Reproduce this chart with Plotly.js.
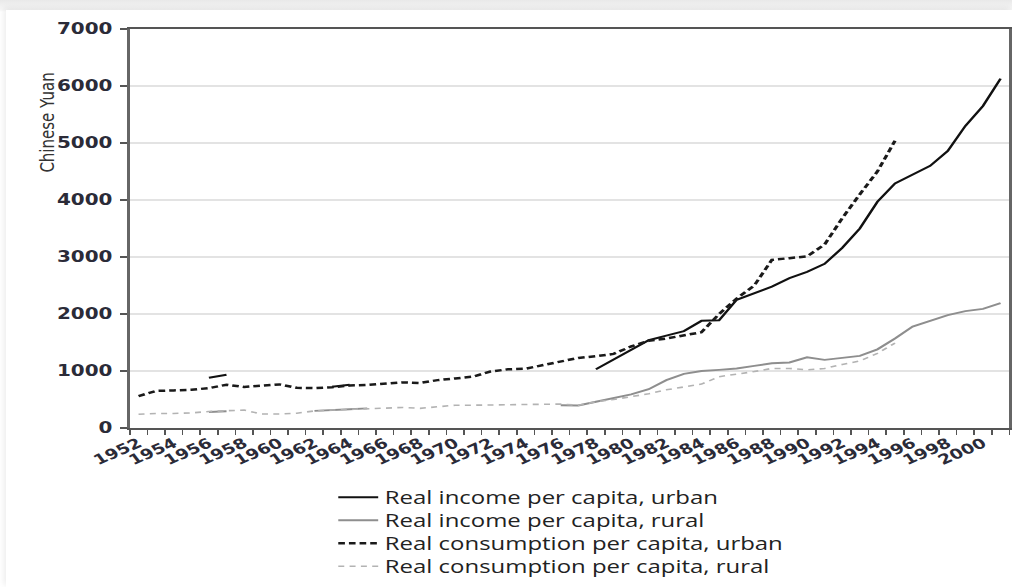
<!DOCTYPE html>
<html>
<head>
<meta charset="utf-8">
<script src="https://cdn.plot.ly/plotly-3.0.1.min.js"></script>
<style>
  html, body { margin: 0; padding: 0; width: 1012px; height: 587px; overflow: hidden;
    background: linear-gradient(to bottom, #e9e9e9 0px, #f7f7f7 10px, #ffffff 12px); }
  #wrap { position: absolute; left: 6px; top: 10px; width: 1006px; height: 577px; background: #fff;
    box-shadow: -2px -2px 6px rgba(0,0,0,0.08); overflow: hidden; }
  #chart { position: absolute; left: 0; top: 0; width: 756px; height: 577px;
    transform: scaleX(1.3307); transform-origin: 0 0; }
</style>
</head>
<body>
<div id="wrap"><div id="chart"></div></div>
<script>
const years = [1952,1953,1954,1955,1956,1957,1958,1959,1960,1961,1962,1963,1964,1965,1966,1967,1968,1969,1970,1971,
  1972,1973,1974,1975,1976,1977,1978,1979,1980,1981,1982,1983,1984,1985,1986,1987,1988,1989,1990,1991,
  1992,1993,1994,1995,1996,1997,1998,1999,2000,2001];

const tickYears = [1952,1954,1956,1958,1960,1962,1964,1966,1968,1970,1972,1974,1976,1978,1980,1982,1984,1986,1988,1990,1992,1994,1996,1998,2000];
const tickLabels = ["1952","1954","1956","1958","1960","1962","1964","1966","1968","1970","1972","1974","1976","1978","1980","1982","1984","1986","1988","1990","1992","1994","1996","1998","2000"];

const incomeUrban = [null,null,null,null,880,935,null,null,null,null,null,725,760,null,null,null,null,null,null,null,
  null,null,null,null,null,null,1030,1200,1370,1540,1620,1700,1880,1890,2250,2370,2480,2630,2740,2880,
  3160,3500,3970,4290,4450,4600,4860,5300,5650,6130];

const incomeRural = [null,null,null,null,280,295,null,null,null,null,300,320,330,345,null,null,null,null,null,null,
  null,null,null,null,400,395,460,520,590,680,840,950,1000,1020,1045,1090,1135,1150,1240,1195,
  1235,1265,1380,1570,1780,1880,1980,2050,2090,2190];

const consUrban = [560,650,660,670,700,760,720,745,765,705,700,715,745,755,780,800,790,840,870,900,
  990,1030,1040,1100,1160,1230,1260,1300,1430,1530,1570,1630,1680,2000,2270,2500,2950,2980,3010,3220,
  3680,4100,4500,5040,null,null,null,null,null,null];

const consRural = [240,255,255,265,290,305,315,245,245,260,300,315,325,335,345,360,345,370,400,400,
  405,410,420,420,420,400,460,500,550,600,670,725,770,900,940,990,1045,1045,1020,1045,
  1115,1175,1310,1490,null,null,null,null,null,null];

const seriesNames = ["Real income per capita, urban","Real income per capita, rural",
  "Real consumption per capita, urban","Real consumption per capita, rural"];

const traces = [
  {x: years, y: incomeUrban, name: seriesNames[0], type: 'scatter', mode: 'lines', connectgaps: false,
   legend: 'legend', line: {color: '#111111', width: 2.0}},
  {x: years, y: incomeRural, name: seriesNames[1], type: 'scatter', mode: 'lines', connectgaps: false,
   legend: 'legend2', line: {color: '#8e8e8e', width: 1.9}},
  {x: years, y: consUrban, name: seriesNames[2], type: 'scatter', mode: 'lines', connectgaps: false,
   legend: 'legend3', line: {color: '#1a1a1a', width: 2.5, dash: '5px,3px'}},
  {x: years, y: consRural, name: seriesNames[3], type: 'scatter', mode: 'lines', connectgaps: false,
   legend: 'legend4', line: {color: '#b3b3b3', width: 1.6, dash: '4.5px,4px'}}
];

function legendBox(yPos) {
  return {xref: 'paper', yref: 'paper', x: 0.2295, y: yPos, xanchor: 'left', yanchor: 'top',
    orientation: 'v', font: {family: '"Open Sans", sans-serif', size: 18, color: '#222'},
    bgcolor: 'rgba(0,0,0,0)'};
}

const layout = {
  width: 756, height: 577,
  margin: {l: 93.2, r: 1.5, t: 19, b: 159, pad: 0, autoexpand: false},
  paper_bgcolor: '#ffffff', plot_bgcolor: '#ffffff',
  showlegend: true,
  legend: legendBox(-0.128),
  legend2: legendBox(-0.1856),
  legend3: legendBox(-0.2432),
  legend4: legendBox(-0.3008),
  xaxis: {
    range: [1951.5, 2001.5], tickmode: 'array', tickvals: tickYears, ticktext: tickLabels,
    ticks: '', tickangle: -30, showgrid: false, zeroline: false,
    tickfont: {family: '"DejaVu Sans", sans-serif', size: 14, color: '#2b2b38', weight: 'bold'},
    showline: true, linecolor: '#555', linewidth: 2, mirror: true,
    minor: {tickmode: 'linear', tick0: 1951.5, dtick: 1, ticks: 'outside', ticklen: 5, tickcolor: '#555', tickwidth: 1.2, showgrid: false}
  },
  yaxis: {
    range: [0, 7000], tickmode: 'linear', tick0: 0, dtick: 1000,
    ticks: 'outside', ticklen: 5, tickcolor: '#555', tickwidth: 1.5, ticklabelstandoff: 3,
    showgrid: true, gridcolor: '#e3e3e3', gridwidth: 1.5, zeroline: false,
    tickfont: {family: '"DejaVu Sans", sans-serif', size: 15, color: '#2b2b38', weight: 'bold'},
    showline: true, linecolor: '#666', linewidth: 2, mirror: true
  },
  annotations: [{
    text: 'Chinese Yuan', xref: 'paper', yref: 'paper', x: -0.094, y: 0.765,
    xanchor: 'center', yanchor: 'middle', textangle: -90, showarrow: false,
    font: {family: '"DejaVu Sans", sans-serif', size: 15, color: '#333'}
  }]
};

Plotly.newPlot('chart', traces, layout, {displayModeBar: false, staticPlot: true});
</script>
</body>
</html>
